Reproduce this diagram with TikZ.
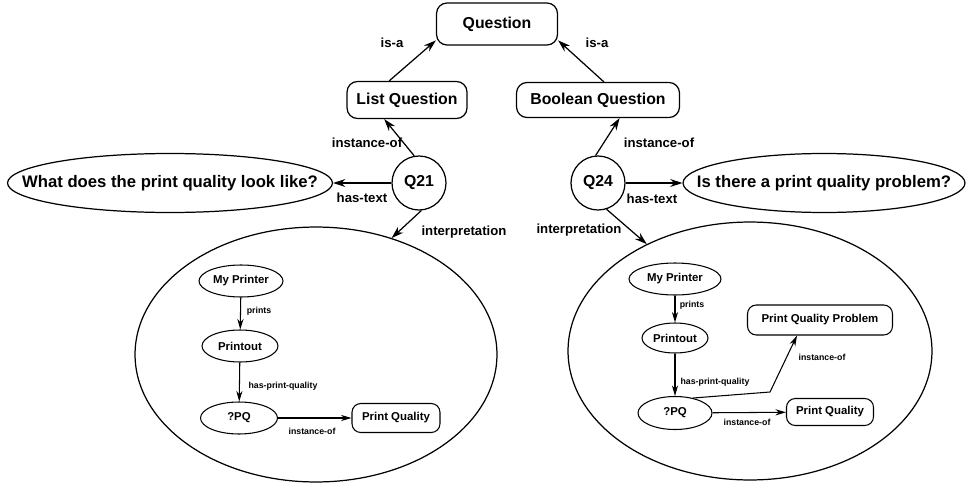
\documentclass[tikz,border=0pt]{standalone}
\usepackage{fontspec}
\setmainfont{Liberation Sans}
\usetikzlibrary{arrows.meta,shapes.geometric}
\tikzstyle{concept}=[draw,rounded corners=6pt,line width=0.7pt,inner sep=0pt,font=\fontsize{9}{10}\selectfont\bfseries]
\tikzstyle{instance}=[draw,circle,line width=0.7pt,inner sep=0pt,minimum size=1.08cm,font=\fontsize{9}{10}\selectfont\bfseries]
\tikzstyle{qtext}=[draw,ellipse,line width=0.7pt,inner sep=0pt,minimum height=1.18cm,font=\fontsize{9.5}{11}\selectfont\bfseries]
\tikzstyle{interp}=[draw,ellipse,line width=0.7pt,inner sep=0pt]
\tikzstyle{relation}=[line width=0.7pt,-{Stealth[length=7pt,width=4.5pt]}]
\tikzstyle{rellabel}=[inner sep=0pt,font=\fontsize{7.5}{8}\selectfont\bfseries]
\tikzstyle{smallconcept}=[draw,rounded corners=5pt,line width=0.6pt,inner sep=0pt,font=\fontsize{6.5}{7}\selectfont\bfseries]
\tikzstyle{smallinstance}=[draw,ellipse,line width=0.6pt,inner sep=0pt,font=\fontsize{6.5}{7}\selectfont\bfseries]
\tikzstyle{smallrelation}=[line width=0.6pt,-{Stealth[length=6pt,width=3.5pt]}]
\tikzstyle{smalllabel}=[inner sep=0pt,font=\fontsize{5}{6}\selectfont\bfseries]
% text of zero width, so that the ellipse keeps its given size
\newcommand{\nowidth}[1]{\makebox[0pt]{#1}}

\begin{document}
\begin{tikzpicture}[x=0.02cm,y=-0.02cm]
	\useasboundingbox (0,0) rectangle (973,483);
	% question hierarchy
	\node[concept,minimum width=2.42cm,minimum height=0.84cm] (q) at (497,24) {Question};
	\node[concept,minimum width=2.4cm,minimum height=0.74cm] (lq) at (407,100) {List Question};
	\node[concept,minimum width=3.26cm,minimum height=0.7cm] (bq) at (598,100) {Boolean Question};
	\draw[relation] (lq.133) -- (q.195);
	\draw[relation] (bq.72) -- (q.345);
	\node[rellabel] (isal) at (392,43) {is-a};
	\node[rellabel] (isar) at (597,43) {is-a};

	% the two questions
	\node[instance] (q21) at (419,183) {Q21};
	\node[instance] (q24) at (598,183) {Q24};
	\node[qtext,minimum width=6.5cm] (t21) at (170,183) {\nowidth{What does the print quality look like?}};
	\node[qtext,minimum width=5.64cm] (t24) at (824,183) {\nowidth{Is there a print quality problem?}};
	\draw[relation] (q21.100) -- (lq.220);
	\draw[relation] (q24.95) -- (bq.320);
	\draw[relation] (q21) -- (t21);
	\draw[relation] (q24) -- (t24);
	\node[rellabel] (inl) at (367,143) {instance-of};
	\node[rellabel] (inr) at (659,143) {instance-of};
	\node[rellabel] (htl) at (362,198) {has-text};
	\node[rellabel] (htr) at (652,199) {has-text};

	% interpretations
	\node[interp,minimum width=7.24cm,minimum height=5.1cm] (i21) at (316,354.5) {};
	\node[interp,minimum width=7.28cm,minimum height=5.16cm] (i24) at (750,351) {};
	\draw[relation] (q21.275) -- (i21.57);
	\draw[relation] (q24.288) -- (i24.134);
	\node[rellabel] (ipl) at (464,232) {interpretation};
	\node[rellabel] (ipr) at (579,230) {interpretation};

	% inside Q21
	\node[smallinstance,minimum width=1.68cm,minimum height=0.64cm] (mp1) at (241,281) {\nowidth{My Printer}};
	\node[smallinstance,minimum width=1.52cm,minimum height=0.64cm] (po1) at (240,346) {\nowidth{Printout}};
	\node[smallinstance,minimum width=1.54cm,minimum height=0.64cm] (pq1) at (239,418) {?PQ};
	\node[smallconcept,minimum width=1.76cm,minimum height=0.58cm] (pqq1) at (396,418) {Print Quality};
	\draw[smallrelation] (mp1) -- (po1);
	\draw[smallrelation] (po1) -- (pq1);
	\draw[smallrelation] (pq1) -- (pqq1);
	\node[smalllabel] (prl) at (259,311) {prints};
	\node[smalllabel] (hpl) at (283,386) {has-print-quality};
	\node[smalllabel] (iol) at (312,431) {instance-of};

	% inside Q24
	\node[smallinstance,minimum width=1.84cm,minimum height=0.64cm] (mp2) at (675,279) {\nowidth{My Printer}};
	\node[smallinstance,minimum width=1.32cm,minimum height=0.6cm] (po2) at (675,338) {\nowidth{Printout}};
	\node[smallinstance,minimum width=1.48cm,minimum height=0.66cm] (pq2) at (675,413) {?PQ};
	\node[smallconcept,minimum width=1.74cm,minimum height=0.54cm] (pqq2) at (830,412) {Print Quality};
	\node[smallconcept,minimum width=2.9cm,minimum height=0.6cm] (pqp2) at (820,320) {Print Quality Problem};
	\coordinate (bend) at (770,392);
	\draw[smallrelation] (mp2) -- (po2);
	\draw[smallrelation] (po2) -- (pq2);
	\draw[smallrelation] (pq2) -- (pqq2);
	\draw[smallrelation] (pq2.40) -- (bend) -- (pqp2.214);
	\node[smalllabel] (prr) at (692,305) {prints};
	\node[smalllabel] (hpr) at (715,382) {has-print-quality};
	\node[smalllabel] (ior) at (747,422) {instance-of};
	\node[smalllabel] (iop) at (822,357) {instance-of};
\end{tikzpicture}
\end{document}
